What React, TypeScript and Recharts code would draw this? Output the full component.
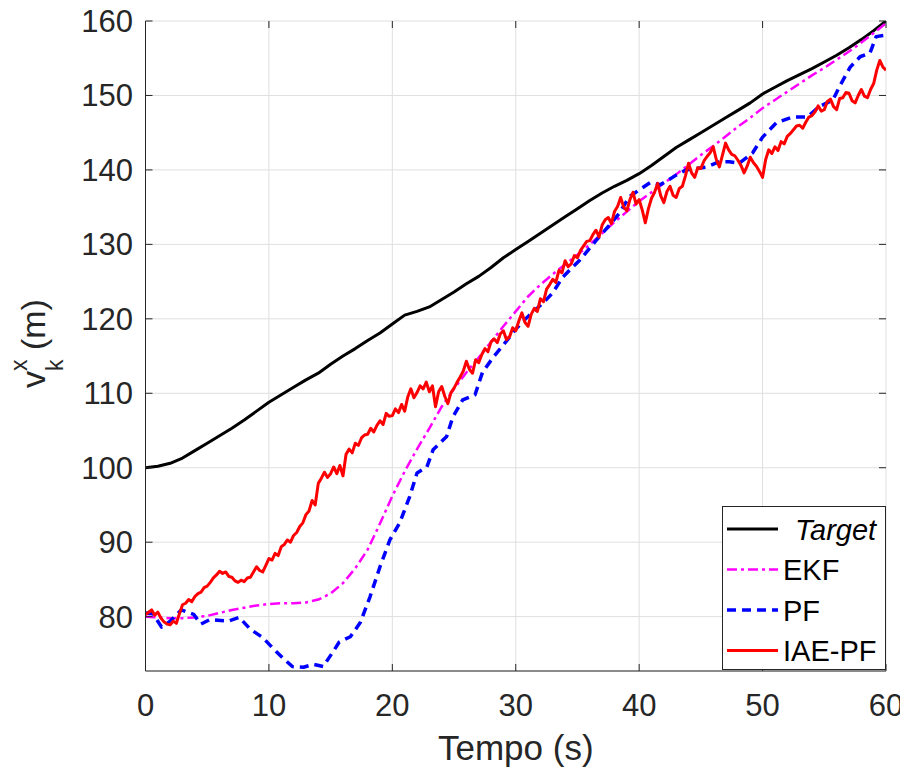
import React from 'react';
import { LineChart, Line, XAxis, YAxis, CartesianGrid, Legend } from 'recharts';

// ── Data ─────────────────────────────────────────────────────────────────────

// x ticks / y ticks
const X_TICKS = [0, 10, 20, 30, 40, 50, 60];
const Y_TICKS = [80, 90, 100, 110, 120, 130, 140, 150, 160];

// Target, sampled every 1 s from t = 0
const TARGET = [
  100, 100.2, 100.6, 101.3, 102.3, 103.3, 104.3, 105.3, 106.4, 107.6,
  108.8, 109.8, 110.8, 111.8, 112.7, 113.9, 115, 116, 117.1, 118.1,
  119.3, 120.5, 121, 121.6, 122.6, 123.6, 124.7, 125.7, 126.9, 128.2,
  129.3, 130.4, 131.5, 132.6, 133.7, 134.8, 135.9, 136.9, 137.8, 138.6,
  139.5, 140.6, 141.8, 143, 144, 145, 146, 147, 148, 149,
  150.2, 151.1, 152, 152.8, 153.6, 154.5, 155.4, 156.4, 157.5, 158.7,
  160,
];

// EKF, sampled every 1 s from t = 0
const EKF = [
  80, 79.9, 79.8, 79.8, 79.9, 80.1, 80.5, 80.9, 81.2, 81.5,
  81.7, 81.8, 81.8, 81.9, 82.3, 83.1, 84.5, 86.5, 89, 92.5,
  96.2, 99.5, 102.5, 105.3, 108.2, 110.6, 112.8, 114.8, 116.9, 119,
  121, 123, 124.6, 126, 127.3, 128.6, 130, 131.5, 133, 134.4,
  135.8, 137, 138.2, 139.4, 140.7, 142, 143.2, 144.5, 145.8, 147,
  148.3, 149.4, 150.5, 151.6, 152.7, 153.7, 154.8, 155.9, 157.1, 158.4,
  159.7,
];

// PF, irregular sample times
const PF_T = [
  0, 0.6, 1.3, 2.0, 2.9, 3.9, 4.5, 5.2, 6.7, 7.6, 8.5, 9.5, 10.3, 11.1, 11.9,
  12.8, 13.6, 14.4, 15.2, 15.7, 16.6, 17.4, 18.2, 19.0, 19.8, 20.6, 21.4, 22.0,
  22.8, 23.3, 24.4, 24.9, 25.7, 26.7, 27.3, 28.2, 29.0, 30.1, 31.1, 32.2, 33.0,
  33.8, 35.2, 36.5, 37.5, 38.4, 39.2, 40.0, 40.9, 41.7, 43.0, 43.8, 45.5, 46.5,
  47.3, 48.1, 49.2, 50.0, 51.1, 52.4, 53.6, 54.6, 55.7, 56.2, 57.1, 57.9, 58.7,
  59.2, 60,
];
const PF = [
  80.5, 80.4, 78.6, 79.4, 80.9, 80.3, 79.0, 79.6, 79.4, 79.9, 78.3, 77.2, 75.8,
  74.5, 73.3, 73.2, 73.6, 73.3, 75.3, 76.6, 77.3, 79.2, 82.7, 86.7, 90.3, 92.6,
  96.1, 99.3, 100.1, 102.4, 104.2, 106.8, 109.1, 109.8, 112.8, 114.9, 116.5,
  118.8, 120.5, 122.1, 123.5, 125.6, 127.9, 130.5, 132.4, 134.2, 136.4, 137.3,
  138.3, 138.0, 139.3, 140.0, 140.4, 141.1, 141.1, 140.9, 142.3, 144.4, 146.3,
  147.1, 147.1, 148.5, 149.4, 151.1, 153.8, 155.2, 155.7, 157.9, 158.1,
];

// IAE-PF, sampled every 0.25 s from t = 0
const IAE_PF = [
  80.3, 80.6, 80.9, 80.2, 80.6, 79.8, 79.3, 79.0, 78.9, 79.4, 79.1, 80.4,
  81.6, 81.8, 82.3, 82.0, 82.7, 83.1, 83.3, 83.9, 84.1, 84.6, 85.2, 85.6,
  86.1, 85.8, 86.0, 85.4, 85.3, 84.8, 84.6, 84.9, 84.7, 85.2, 85.3, 86.0,
  86.7, 86.2, 86.0, 86.9, 87.8, 87.6, 88.5, 88.2, 89.4, 89.7, 90.3, 90.0,
  90.9, 91.3, 92.1, 92.6, 93.7, 94.2, 95.6, 95.0, 97.9, 98.6, 99.4, 98.7,
  99.2, 100.1, 99.2, 100.3, 98.9, 101.8, 102.5, 102.0, 103.3, 103.0, 104.0, 104.4,
  104.5, 105.3, 104.8, 105.7, 106.3, 105.8, 107.3, 106.9, 107.0, 107.9, 107.4, 108.5,
  107.6, 109.5, 110.6, 109.4, 110.1, 111.0, 110.6, 111.5, 110.2, 111.0, 108.2, 110.2,
  110.9, 109.6, 108.6, 110.1, 110.7, 111.5, 112.2, 113.0, 114.3, 113.2, 112.7, 114.5,
  114.1, 115.2, 116.0, 115.6, 116.9, 117.3, 116.8, 118.0, 118.4, 117.2, 117.6, 118.8,
  118.4, 119.7, 120.8, 119.5, 119.0, 120.6, 121.4, 121.0, 122.7, 122.3, 124.0, 124.6,
  125.3, 124.9, 126.5, 126.2, 127.8, 127.0, 127.4, 128.5, 128.2, 129.2, 129.8, 130.4,
  130.5, 131.3, 131.9, 131.0, 132.6, 133.3, 133.6, 132.8, 134.4, 135.1, 136.3, 135.0,
  134.5, 136.0, 137.0, 135.4, 136.0, 134.6, 132.9, 134.8, 136.2, 137.0, 138.2, 136.5,
  135.6, 137.1, 137.8, 136.6, 136.3, 137.5, 137.8, 139.2, 140.9, 139.6, 139.0, 140.3,
  140.2, 141.2, 141.8, 142.3, 143.1, 141.4, 140.4, 142.0, 143.6, 142.7, 142.1, 141.9,
  141.3, 140.6, 139.6, 140.5, 141.7, 141.0, 140.5, 139.8, 139.0, 141.4, 142.7, 142.2,
  143.1, 142.6, 143.8, 143.5, 144.5, 144.9, 145.4, 145.9, 146.0, 145.6, 146.4, 147.1,
  147.3, 147.8, 148.6, 147.9, 148.1, 149.2, 149.5, 148.5, 148.1, 149.6, 149.7, 150.4,
  150.3, 149.3, 149.0, 150.0, 150.8, 149.9, 149.7, 150.8, 151.6, 153.4, 154.7, 153.8,
  153.4,
];

// ── Layout / style ───────────────────────────────────────────────────────────

const FONT = '"Liberation Sans", Arial, Helvetica, sans-serif';
const AXIS_COLOR = '#262626';
const GRID_COLOR = '#dfdfdf';

const W = 900;
const H = 766;
const MARGIN = { top: 13, right: 22, bottom: 0, left: 0 };
const Y_AXIS_W = 137.5;
const X_AXIS_H = 103;
const PLOT_L = MARGIN.left + Y_AXIS_W;
const PLOT_R = W - MARGIN.right;
const PLOT_T = MARGIN.top;
const PLOT_B = H - MARGIN.bottom - X_AXIS_H;
const TICK_LEN = 7;

const SERIES = [
  { key: 'target', name: 'Target', color: '#000000', width: 3, dash: undefined, italic: true },
  { key: 'ekf', name: 'EKF', color: '#ff00ff', width: 2.5, dash: '10 4 3 4', italic: false },
  { key: 'pf', name: 'PF', color: '#0000ff', width: 3.5, dash: '9 6', italic: false },
  { key: 'iae', name: 'IAE-PF', color: '#ff0000', width: 3, dash: undefined, italic: false },
];

const targetData = TARGET.map((v, i) => ({ t: i, v }));
const ekfData = EKF.map((v, i) => ({ t: i, v }));
const pfData = PF.map((v, i) => ({ t: PF_T[i], v }));
const iaeData = IAE_PF.map((v, i) => ({ t: i * 0.25, v }));
const DATA: Record<string, { t: number; v: number }[]> = {
  target: targetData,
  ekf: ekfData,
  pf: pfData,
  iae: iaeData,
};

// ── Axis pieces ──────────────────────────────────────────────────────────────

function XTick({ x, payload }: any) {
  return (
    <g>
      <line x1={x} x2={x} y1={PLOT_B} y2={PLOT_B - TICK_LEN} stroke={AXIS_COLOR} />
      <line x1={x} x2={x} y1={PLOT_T} y2={PLOT_T + TICK_LEN} stroke={AXIS_COLOR} />
      <text x={x} y={PLOT_B + 45} textAnchor="middle" fontSize={31} fill={AXIS_COLOR} fontFamily={FONT}>
        {payload.value}
      </text>
    </g>
  );
}

function YTick({ y, payload }: any) {
  return (
    <g>
      <line x1={PLOT_L} x2={PLOT_L + TICK_LEN} y1={y} y2={y} stroke={AXIS_COLOR} />
      <line x1={PLOT_R} x2={PLOT_R - TICK_LEN} y1={y} y2={y} stroke={AXIS_COLOR} />
      <text x={PLOT_L - 12.5} y={y + 11} textAnchor="end" fontSize={31} fill={AXIS_COLOR} fontFamily={FONT}>
        {payload.value}
      </text>
    </g>
  );
}

function XLabel() {
  return (
    <text x={(PLOT_L + PLOT_R) / 2} y={752} textAnchor="middle" fontSize={35} fill={AXIS_COLOR} fontFamily={FONT}>
      Tempo (s)
    </text>
  );
}

function YLabel() {
  const cx = 37;
  const cy = 335.5;
  return (
    <text
      x={cx}
      y={cy}
      transform={`rotate(-90, ${cx}, ${cy})`}
      textAnchor="middle"
      fontSize={34}
      fill={AXIS_COLOR}
      fontFamily={FONT}
    >
      <tspan>v</tspan>
      <tspan fontSize={23} dy={-18}>x</tspan>
      <tspan fontSize={23} dx={-11.5} dy={36}>k</tspan>
      <tspan dy={-18}> (m)</tspan>
    </text>
  );
}

// ── Legend ───────────────────────────────────────────────────────────────────

const LEG_W = 164;
const LEG_H = 164;
const LEG_ROWS = [23, 63.5, 104, 144.5];

function LegendBox() {
  return (
    <div style={{ width: LEG_W, height: LEG_H, background: '#fff' }}>
      <svg width={LEG_W} height={LEG_H} style={{ display: 'block' }}>
        <rect x={0.5} y={0.5} width={LEG_W - 1} height={LEG_H - 1} fill="#fff" stroke={AXIS_COLOR} />
        {SERIES.map((s, i) => (
          <g key={s.key}>
            <line
              x1={5}
              x2={56}
              y1={LEG_ROWS[i]}
              y2={LEG_ROWS[i]}
              stroke={s.color}
              strokeWidth={s.width}
              strokeDasharray={s.dash}
            />
            <text
              x={s.italic ? 73 : 61}
              y={LEG_ROWS[i] + 10.5}
              fontSize={29}
              fontStyle={s.italic ? 'italic' : 'normal'}
              fill="#000"
              fontFamily={FONT}
            >
              {s.name}
            </text>
          </g>
        ))}
      </svg>
    </div>
  );
}

// ── Chart ────────────────────────────────────────────────────────────────────

export default function App() {
  return (
    <div style={{ width: W, height: H, background: '#fff' }}>
      <LineChart width={W} height={H} margin={MARGIN}>
        <CartesianGrid stroke={GRID_COLOR} strokeWidth={1} />
        <XAxis
          type="number"
          dataKey="t"
          domain={[0, 60]}
          ticks={X_TICKS}
          height={X_AXIS_H}
          axisLine={{ stroke: AXIS_COLOR }}
          tickLine={false}
          tick={<XTick />}
          interval={0}
          allowDataOverflow
          label={<XLabel />}
        />
        <XAxis
          xAxisId="top"
          orientation="top"
          type="number"
          domain={[0, 60]}
          height={0}
          tick={false}
          tickLine={false}
          axisLine={{ stroke: AXIS_COLOR }}
        />
        <YAxis
          type="number"
          domain={[72.7, 160]}
          ticks={Y_TICKS}
          width={Y_AXIS_W}
          axisLine={{ stroke: AXIS_COLOR }}
          tickLine={false}
          tick={<YTick />}
          interval={0}
          allowDataOverflow
          label={<YLabel />}
        />
        <YAxis
          yAxisId="right"
          orientation="right"
          type="number"
          domain={[72.7, 160]}
          width={0}
          tick={false}
          tickLine={false}
          axisLine={{ stroke: AXIS_COLOR }}
        />
        {SERIES.map((s) => (
          <Line
            key={s.key}
            data={DATA[s.key]}
            dataKey="v"
            name={s.name}
            type="linear"
            stroke={s.color}
            strokeWidth={s.width}
            strokeDasharray={s.dash}
            strokeLinejoin="round"
            dot={false}
            activeDot={false}
            isAnimationActive={false}
          />
        ))}
        <Legend
          layout="vertical"
          align="center"
          verticalAlign="middle"
          wrapperStyle={{ left: PLOT_R - LEG_W, top: PLOT_B - LEG_H - 1, width: LEG_W, height: LEG_H }}
          content={() => <LegendBox />}
        />
      </LineChart>
    </div>
  );
}
